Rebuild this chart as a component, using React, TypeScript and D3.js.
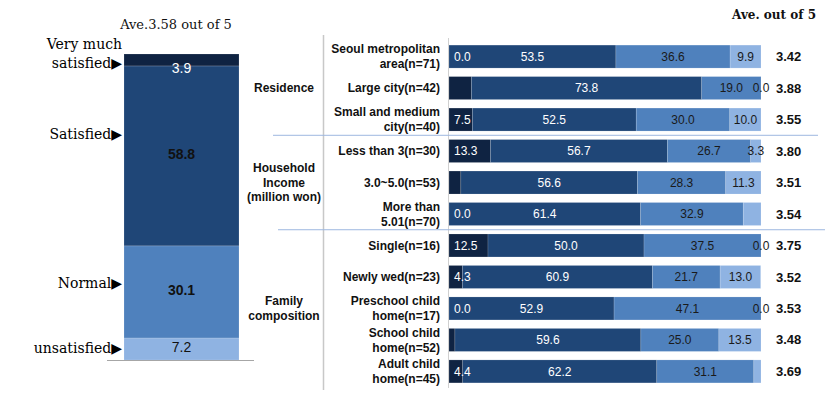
import * as d3 from 'd3';

// overall satisfaction (left bar), %
const overallLevels = ['Very much satisfied', 'Satisfied', 'Normal', 'unsatisfied'];
const overallValues = [3.9, 58.8, 30.1, 7.2];
const overallAvg = 3.58;

// breakdown rows (right chart)
const rowLabels = [
  ['Seoul metropolitan', 'area(n=71)'],
  ['Large city(n=42)'],
  ['Small and medium', 'city(n=40)'],
  ['Less than 3(n=30)'],
  ['3.0~5.0(n=53)'],
  ['More than', '5.01(n=70)'],
  ['Single(n=16)'],
  ['Newly wed(n=23)'],
  ['Preschool child', 'home(n=17)'],
  ['School child', 'home(n=52)'],
  ['Adult child', 'home(n=45)'],
];
const veryMuch = [0.0, 7.2, 7.5, 13.3, 3.8, 0.0, 12.5, 4.3, 0.0, 1.9, 4.4];
const satisfied = [53.5, 73.8, 52.5, 56.7, 56.6, 61.4, 50.0, 60.9, 52.9, 59.6, 62.2];
const normal = [36.6, 19.0, 30.0, 26.7, 28.3, 32.9, 37.5, 21.7, 47.1, 25.0, 31.1];
const unsatisfied = [9.9, 0.0, 10.0, 3.3, 11.3, 5.7, 0.0, 13.0, 0.0, 13.5, 2.3];
const averages = [3.42, 3.88, 3.55, 3.8, 3.51, 3.54, 3.75, 3.52, 3.53, 3.48, 3.69];
// segments whose value is not printed in the original ("row-series")
const hiddenLabels = ['1-0', '4-0', '5-3', '9-0', '10-3'];

const groups = [
  { lines: ['Residence'], from: 0, to: 2 },
  { lines: ['Household', 'Income', '(million won)'], from: 3, to: 5 },
  { lines: ['Family', 'composition'], from: 6, to: 10 },
];

const colors = ['#0f2342', '#1f4677', '#4f81bd', '#8fb3e2'];
const labelColors = ['#ffffff', '#ffffff', '#1a1a1a', '#1a1a1a'];

const serif = '"DejaVu Serif", serif';
const sans = '"Liberation Sans", Arial, sans-serif';

export default function App() {
  const W = 827;
  const H = 395;

  // left bar
  const yL = d3.scaleLinear().domain([0, 100]).range([360, 54]);
  const barL = { x0: 124, x1: 239 };
  const revVals = [...overallValues].reverse(); // bottom-up
  const stackL = d3.stack<number[]>().keys(['0', '1', '2', '3'])([revVals as any]);
  const leftSegs = stackL.map((s, i) => {
    const idx = 3 - i;
    return { idx, y0: s[0][0], y1: s[0][1], v: overallValues[idx] };
  });
  const leftLabelY = [
    [49, 68],
    [139],
    [288],
    [353],
  ];

  // right bars
  const x = d3.scaleLinear().domain([0, 100]).range([449, 761]);
  const y = d3
    .scaleBand<number>()
    .domain(d3.range(rowLabels.length))
    .range([41, 387])
    .paddingInner(0.27)
    .paddingOuter(0.13);

  const table = rowLabels.map((_, i) => [veryMuch[i], satisfied[i], normal[i], unsatisfied[i]]);
  const series = d3.stack<number[]>().keys(['0', '1', '2', '3'])(table as any);

  const rowCenter = (i: number) => (y(i) ?? 0) + y.bandwidth() / 2;
  const sepY = (a: number) => (rowCenter(a) + rowCenter(a + 1)) / 2;

  return (
    <svg
      width={W}
      height={H}
      style={{ position: 'absolute', left: 0, top: 0, background: '#fff' }}
    >
      {/* left: overall */}
      <text x={176} y={29} textAnchor="middle" fontFamily={serif} fontSize={13} fill="#111">
        Ave.{overallAvg} out of 5
      </text>
      {leftSegs.map((d) => (
        <rect
          key={d.idx}
          x={barL.x0}
          width={barL.x1 - barL.x0}
          y={yL(d.y1)}
          height={yL(d.y0) - yL(d.y1)}
          fill={colors[d.idx]}
          stroke="#ffffff"
          strokeOpacity={0.25}
          strokeWidth={0.6}
        />
      ))}
      {leftSegs.map((d) => {
        const h = yL(d.y0) - yL(d.y1);
        const cy = h < 16 ? yL(d.y1) + 14 : (yL(d.y0) + yL(d.y1)) / 2 - 2;
        const bold = d.idx === 1 || d.idx === 2;
        return (
          <text
            key={'l' + d.idx}
            x={(barL.x0 + barL.x1) / 2}
            y={cy}
            dy="0.35em"
            textAnchor="middle"
            fontFamily={sans}
            fontSize={14}
            fontWeight={bold ? 'bold' : 'normal'}
            fill={d.idx === 0 ? '#ffffff' : '#111'}
          >
            {d.v.toFixed(1)}
          </text>
        );
      })}
      {overallLevels.map((lvl, i) => {
        const lines = i === 0 ? ['Very much', 'satisfied▶'] : [lvl + '▶'];
        return lines.map((ln, j) => (
          <text
            key={lvl + j}
            x={j === 0 && lines.length > 1 ? 122 : 122}
            y={leftLabelY[i][j]}
            textAnchor="end"
            fontFamily={serif}
            fontSize={14}
            fill="#000"
          >
            {ln}
          </text>
        ));
      })}
      <line x1={107} x2={254} y1={360.5} y2={360.5} stroke="#a6a6a6" />

      {/* right: breakdown */}
      <line x1={323.5} x2={323.5} y1={35} y2={390} stroke="#c8c8c8" strokeWidth={1.5} />
      <line x1={448.5} x2={448.5} y1={38} y2={388} stroke="#d0d0d0" />
      <line x1={273} x2={818} y1={sepY(2)} y2={sepY(2)} stroke="#9db7e0" />
      <line x1={278} x2={825} y1={sepY(5)} y2={sepY(5)} stroke="#9db7e0" />

      {groups.map((g) => {
        const cy = (rowCenter(g.from) + rowCenter(g.to)) / 2;
        const lh = 14.5;
        return g.lines.map((ln, j) => (
          <text
            key={ln}
            x={284}
            y={cy + (j - (g.lines.length - 1) / 2) * lh}
            dy="0.35em"
            textAnchor="middle"
            fontFamily={sans}
            fontSize={12}
            fontWeight="bold"
            fill="#111"
          >
            {ln}
          </text>
        ));
      })}

      {rowLabels.map((lines, i) =>
        lines.map((ln, j) => (
          <text
            key={i + '-' + j}
            x={440}
            y={rowCenter(i) + (j - (lines.length - 1) / 2) * 15}
            dy="0.35em"
            textAnchor="end"
            fontFamily={sans}
            fontSize={12}
            fontWeight="bold"
            fill="#111"
          >
            {ln}
          </text>
        ))
      )}

      {series.map((s, k) =>
        s.map((d, i) => (
          <rect
            key={k + '-' + i}
            x={x(d[0])}
            width={Math.max(0, x(d[1]) - x(d[0]))}
            y={y(i)}
            height={y.bandwidth()}
            fill={colors[k]}
            stroke="#ffffff"
            strokeOpacity={0.25}
            strokeWidth={0.6}
          />
        ))
      )}

      {series.map((s, k) =>
        s.map((d, i) => {
          if (hiddenLabels.includes(i + '-' + k)) return null;
          const first = k === 0;
          const cx = first ? x(0) + 5 : (x(d[0]) + x(d[1])) / 2;
          return (
            <text
              key={'t' + k + '-' + i}
              x={cx}
              y={rowCenter(i)}
              dy="0.35em"
              textAnchor={first ? 'start' : 'middle'}
              fontFamily={sans}
              fontSize={12}
              fill={labelColors[k]}
            >
              {(d[1] - d[0]).toFixed(1)}
            </text>
          );
        })
      )}

      <text x={816} y={19} textAnchor="end" fontFamily={serif} fontSize={12} fontWeight="bold" fill="#111">
        Ave. out of 5
      </text>
      {averages.map((a, i) => (
        <text
          key={'a' + i}
          x={776}
          y={rowCenter(i)}
          dy="0.35em"
          fontFamily={sans}
          fontSize={13}
          fontWeight="bold"
          fill="#111"
        >
          {a.toFixed(2)}
        </text>
      ))}
    </svg>
  );
}
